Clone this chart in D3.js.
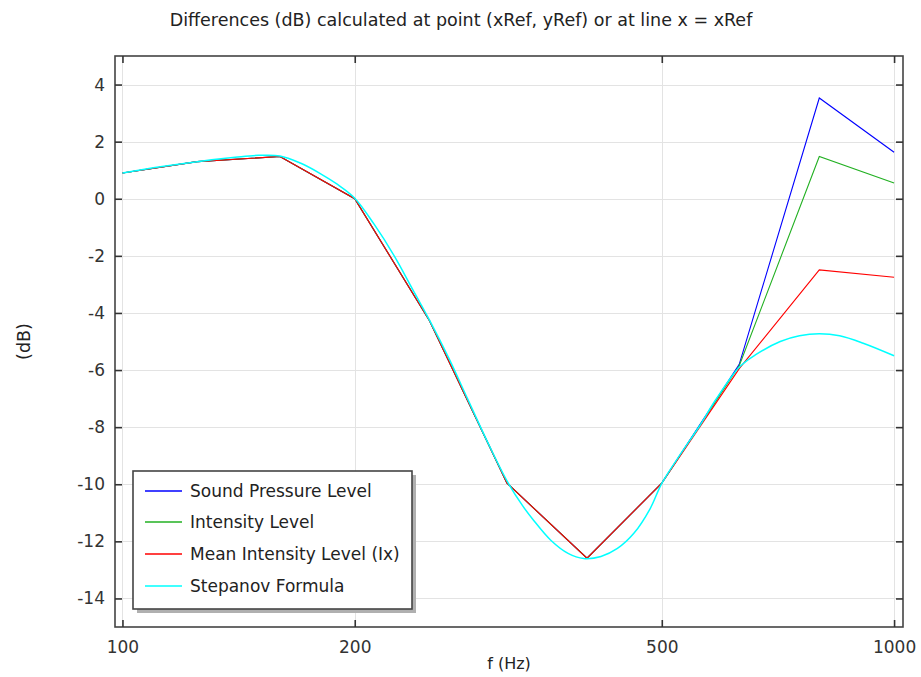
<!DOCTYPE html>
<html>
<head>
<meta charset="utf-8">
<script src="https://cdn.jsdelivr.net/npm/d3@7"></script>
<style>
  html, body { margin: 0; padding: 0; background: #fff; }
  svg { display: block; }
</style>
</head>
<body>
<svg id="chart" width="921" height="677"></svg>
<script>
// ---------- data ----------
const bandFreqs = [100, 125, 160, 200, 250, 315, 400, 500, 630, 800, 1000];
const soundPressureLevel = [0.9, 1.3, 1.48, 0.0, -4.27, -9.96, -12.59, -9.96, -5.8, 3.53, 1.63];
const intensityLevel     = [0.9, 1.3, 1.48, 0.0, -4.27, -9.96, -12.59, -9.96, -5.85, 1.48, 0.55];
const meanIntensityLevel = [0.9, 1.3, 1.48, 0.0, -4.27, -9.96, -12.59, -9.96, -5.95, -2.49, -2.75];

const stepanovFreqs  = [100, 112, 125, 140, 150, 160, 170, 180, 190, 200, 212, 225, 238, 250, 265, 280, 297, 315,
                        330, 341, 359, 378, 396, 417, 438, 460, 483, 500, 530, 560, 587, 630, 661, 712, 754, 800, 850, 912, 1000];
const stepanovValues = [0.9, 1.12, 1.3, 1.45, 1.52, 1.5, 1.25, 0.9, 0.5, 0.02, -0.9, -2.0, -3.2, -4.25, -5.6, -7.0, -8.5, -9.88,
                        -10.75, -11.26, -11.96, -12.42, -12.6, -12.53, -12.25, -11.72, -10.85, -9.97, -8.9, -7.95, -7.05, -5.9, -5.47, -5.0, -4.8, -4.73, -4.8, -5.06, -5.5];

const seriesNames  = ["Sound Pressure Level", "Intensity Level", "Mean Intensity Level (Ix)", "Stepanov Formula"];
const seriesColors = ["#0000ff", "#22b022", "#ff0000", "#00ffff"];

const xTicks = [100, 200, 500, 1000];
const yTicks = [-14, -12, -10, -8, -6, -4, -2, 0, 2, 4];

const titleText = "Differences (dB) calculated at point (xRef, yRef) or at line x = xRef";
const xLabel = "f (Hz)";
const yLabel = "(dB)";

// ---------- layout ----------
const L = 115, R = 903, T = 56, B = 627;
const svg = d3.select("#chart");
const x = d3.scaleLog().domain([97.8, 1027]).range([L, R]);
const y = d3.scaleLinear().domain([-15, 5]).range([B, T]);

const font = "'DejaVu Sans', sans-serif";

svg.append("defs").append("clipPath").attr("id", "clip")
  .append("rect").attr("x", L).attr("y", T).attr("width", R - L).attr("height", B - T);

// grid
const grid = svg.append("g").attr("stroke", "#e3e3e3").attr("stroke-width", 1);
grid.selectAll("line.h").data(yTicks).join("line")
  .attr("x1", L).attr("x2", R)
  .attr("y1", d => Math.round(y(d)) + 0.5).attr("y2", d => Math.round(y(d)) + 0.5);
grid.selectAll("line.v").data(xTicks).join("line")
  .attr("y1", T).attr("y2", B)
  .attr("x1", d => Math.round(x(d)) + 0.5).attr("x2", d => Math.round(x(d)) + 0.5);

// series
const line = d3.line().x(d => x(d[0])).y(d => y(d[1]));
const smooth = d3.line().x(d => x(d[0])).y(d => y(d[1])).curve(d3.curveCatmullRom.alpha(0.5));
const plot = svg.append("g").attr("clip-path", "url(#clip)").attr("fill", "none").attr("stroke-width", 1.1);
[soundPressureLevel, intensityLevel, meanIntensityLevel].forEach((vals, i) => {
  plot.append("path")
    .datum(bandFreqs.map((f, j) => [f, vals[j]]))
    .attr("stroke", seriesColors[i])
    .attr("d", line);
});
plot.append("path")
  .datum(stepanovFreqs.map((f, j) => [f, stepanovValues[j]]))
  .attr("stroke", seriesColors[3])
  .attr("stroke-width", 1.5)
  .attr("d", smooth);

// frame
svg.append("rect").attr("x", L).attr("y", T).attr("width", R - L).attr("height", B - T)
  .attr("fill", "none").attr("stroke", "#444").attr("stroke-width", 1.6);

// axes with inward ticks
const tickLen = 7;
const axB = svg.append("g").attr("transform", `translate(0,${B})`)
  .call(d3.axisBottom(x).tickValues(xTicks).tickFormat(d3.format("d")).tickSizeInner(-tickLen).tickSizeOuter(0).tickPadding(14));
const axT = svg.append("g").attr("transform", `translate(0,${T})`)
  .call(d3.axisTop(x).tickValues(xTicks).tickFormat("").tickSizeInner(-tickLen).tickSizeOuter(0));
const axL = svg.append("g").attr("transform", `translate(${L},0)`)
  .call(d3.axisLeft(y).tickValues(yTicks).tickFormat(d3.format("d")).tickSizeInner(-tickLen).tickSizeOuter(0).tickPadding(10));
const axR = svg.append("g").attr("transform", `translate(${R},0)`)
  .call(d3.axisRight(y).tickValues(yTicks).tickFormat("").tickSizeInner(-tickLen).tickSizeOuter(0));
[axB, axT, axL, axR].forEach(a => {
  a.select(".domain").remove();
  a.selectAll(".tick line").attr("stroke", "#333").attr("stroke-width", 1.6);
  a.selectAll("text").attr("fill", "#333").style("font-family", font).style("font-size", "17px");
});
axL.selectAll("text").text(d => String(d).replace("\u2212", "-"));

// title & labels
svg.append("text").attr("x", 461).attr("y", 26).attr("text-anchor", "middle")
  .style("font-family", font).style("font-size", "17.5px").attr("fill", "#222").text(titleText);
svg.append("text").attr("x", (L + R) / 2).attr("y", 669).attr("text-anchor", "middle")
  .style("font-family", font).style("font-size", "16px").attr("fill", "#222").text(xLabel);
svg.append("text").attr("transform", `translate(30,${(T + B) / 2}) rotate(-90)`).attr("text-anchor", "middle")
  .style("font-family", font).style("font-size", "17.5px").attr("fill", "#222").text(yLabel);

// legend
const lg = svg.append("g");
const lx = 133, ly = 471, lw = 279, lh = 138;
lg.append("rect").attr("x", lx + 4).attr("y", ly + 4).attr("width", lw).attr("height", lh).attr("fill", "#b0b0b0");
lg.append("rect").attr("x", lx).attr("y", ly).attr("width", lw).attr("height", lh)
  .attr("fill", "#fff").attr("stroke", "#444").attr("stroke-width", 1.6);
const rowY = [491, 522, 554, 586];
seriesNames.forEach((name, i) => {
  lg.append("line").attr("x1", 145).attr("x2", 182).attr("y1", rowY[i]).attr("y2", rowY[i])
    .attr("stroke", seriesColors[i]).attr("stroke-width", 1.5);
  lg.append("text").attr("x", 190).attr("y", rowY[i] + 6)
    .style("font-family", font).style("font-size", "17px").attr("fill", "#222").text(name);
});
</script>
</body>
</html>
